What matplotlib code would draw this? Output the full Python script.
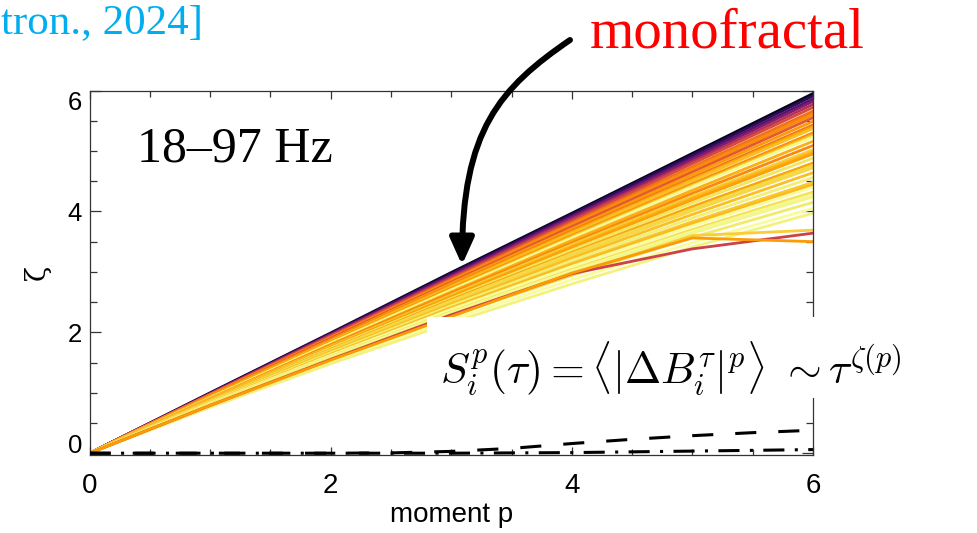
import matplotlib
matplotlib.use("Agg")
import matplotlib.pyplot as plt
from matplotlib.patches import Rectangle, FancyArrowPatch
from matplotlib.path import Path
from matplotlib.ticker import FixedLocator, MultipleLocator

# ---- data -------------------------------------------------------------
moments = [0, 1, 2, 3, 4, 5, 6]

# scaling exponents zeta(p), one curve per interval
zeta_curves = [
    [0, 1.00, 1.99, 2.99, 3.97, 4.96, 5.95],
    [0, 0.99, 1.98, 2.97, 3.95, 4.93, 5.91],
    [0, 0.99, 1.97, 2.95, 3.92, 4.89, 5.86],
    [0, 0.98, 1.96, 2.93, 3.90, 4.86, 5.82],
    [0, 0.98, 1.95, 2.91, 3.87, 4.82, 5.77],
    [0, 0.97, 1.94, 2.89, 3.84, 4.79, 5.72],
    [0, 0.97, 1.92, 2.87, 3.81, 4.74, 5.66],
    [0, 0.96, 1.91, 2.86, 3.79, 4.71, 5.62],
    [0, 0.96, 1.91, 2.85, 3.78, 4.69, 5.60],
    [0, 0.95, 1.90, 2.83, 3.75, 4.65, 5.55],
    [0, 0.95, 1.88, 2.81, 3.71, 4.61, 5.49],
    [0, 0.94, 1.87, 2.78, 3.68, 4.56, 5.43],
    [0, 0.94, 1.86, 2.77, 3.66, 4.53, 5.40],
    [0, 0.93, 1.85, 2.75, 3.64, 4.51, 5.37],
    [0, 0.93, 1.84, 2.73, 3.60, 4.46, 5.30],
    [0, 0.92, 1.83, 2.71, 3.58, 4.43, 5.26],
    [0, 0.92, 1.82, 2.70, 3.56, 4.41, 5.23],
    [0, 0.91, 1.80, 2.67, 3.52, 4.35, 5.16],
    [0, 0.90, 1.79, 2.65, 3.48, 4.30, 5.09],
    [0, 0.90, 1.77, 2.62, 3.45, 4.25, 5.02],
    [0, 0.89, 1.76, 2.60, 3.42, 4.22, 4.98],
    [0, 0.89, 1.75, 2.59, 3.40, 4.19, 4.95],
    [0, 0.88, 1.74, 2.56, 3.36, 4.14, 4.88],
    [0, 0.88, 1.72, 2.54, 3.32, 4.08, 4.80],
    [0, 0.87, 1.71, 2.52, 3.30, 4.04, 4.76],
    [0, 0.86, 1.70, 2.50, 3.27, 4.01, 4.72],
    [0, 0.86, 1.68, 2.47, 3.23, 3.95, 4.64],
    [0, 0.85, 1.66, 2.44, 3.18, 3.89, 4.56],
    [0, 0.84, 1.64, 2.41, 3.14, 3.83, 4.48],
    [0, 0.83, 1.63, 2.40, 3.12, 3.80, 4.44],
    [0, 0.83, 1.62, 2.38, 3.09, 3.76, 4.40],
    [0, 0.82, 1.60, 2.34, 3.04, 3.70, 4.32],
    [0, 0.81, 1.59, 2.33, 3.02, 3.67, 4.28],
    [0, 0.81, 1.58, 2.31, 2.99, 3.64, 4.24],
    [0, 0.80, 1.55, 2.27, 2.94, 3.57, 4.15],
    [0, 0.78, 1.52, 2.21, 2.87, 3.48, 4.05],
    [0, 0.76, 1.48, 2.16, 2.80, 3.41, 3.97],
    [0, 0.80, 1.56, 2.28, 2.95, 3.60, 3.69],
    [0, 0.79, 1.55, 2.29, 2.97, 3.38, 3.64],
    [0, 0.79, 1.54, 2.26, 2.98, 3.56, 3.50],
]

# colormap position (inferno) of each curve
curve_tones = [
    0.05, 0.15, 0.25, 0.35, 0.48, 0.58, 0.68, 0.72, 0.75, 0.62,
    0.78, 0.70, 0.80, 0.85, 0.76, 0.86, 0.98, 0.82, 0.74, 0.88,
    0.83, 0.79, 0.93, 0.80, 0.91, 0.90, 0.85, 0.95, 0.87, 0.84,
    0.99, 0.92, 0.98, 0.97, 0.94, 0.99, 0.96, 0.88, 0.55, 0.78,
]

# reference curves near zero
dashed_p = [0, 2, 2.5, 3, 3.5, 4, 4.5, 5, 5.5, 6]
dashed_zeta = [0, 0.0, 0.005, 0.03, 0.08, 0.16, 0.23, 0.29, 0.34, 0.38]
dashdot_p = [0, 3, 4, 5, 6]
dashdot_zeta = [0, 0.0, 0.01, 0.035, 0.06]

x_ticks = [0, 2, 4, 6]
y_ticks = [0, 2, 4, 6]

# ---- figure -----------------------------------------------------------
plt.rcParams["mathtext.fontset"] = "cm"
W, H = 977, 533
fig = plt.figure(figsize=(W / 100, H / 100), dpi=100)


def fpos(x, y):
    """pixel position (from top-left) -> figure fraction"""
    return x / W, 1 - y / H


ax = fig.add_axes([0.0917, 0.1463, 0.7404, 0.6839])

cmap = plt.get_cmap("inferno")
for vals, tone in zip(zeta_curves, curve_tones):
    ax.plot(moments, vals, color=cmap(tone), lw=2.0, zorder=2)

ax.plot(dashed_p, dashed_zeta, color="black", lw=2.2,
        dashes=(6.9, 7.2), zorder=3)
ax.plot(dashdot_p, dashdot_zeta, color="black", lw=2.2,
        dashes=(6.9, 3.4, 1.0, 3.4), zorder=3)

ax.set_xlim(0, 6)
ax.set_ylim(-0.03, 6)
ax.xaxis.set_major_locator(FixedLocator(x_ticks))
ax.yaxis.set_major_locator(FixedLocator(y_ticks))
ax.xaxis.set_minor_locator(MultipleLocator(0.5))
ax.yaxis.set_minor_locator(MultipleLocator(0.5))

spine_col = "#333333"
for s in ax.spines.values():
    s.set_color(spine_col)
    s.set_linewidth(0.9)

ax.tick_params(which="both", direction="in", top=True, right=True,
               width=0.9, color=spine_col, labelcolor="black")
ax.tick_params(axis="x", which="major", length=6, pad=13, labelsize=20)
ax.tick_params(axis="x", which="minor", length=4)
ax.tick_params(axis="y", which="major", length=8, pad=5.5, labelsize=18.5)
ax.tick_params(axis="y", which="minor", length=5)
for lbl in ax.get_xticklabels() + ax.get_yticklabels():
    lbl.set_family("Liberation Sans")

ax.set_xlabel("moment p", fontsize=20, family="Liberation Sans", labelpad=2)
ax.set_ylabel("ζ", fontsize=20, family="DejaVu Serif", labelpad=12)

fig.canvas.draw()
ylbls = ax.get_yticklabels()
ylbls[0].set_va("baseline")
ylbls[-1].set_va("top")

# annotations
fig.text(*fpos(137, 162), "18–97 Hz", fontsize=36, family="Liberation Serif",
         va="baseline", ha="left")
fig.text(*fpos(590, 48), "monofractal", fontsize=41, color="#ff0000",
         family="Liberation Serif", va="baseline", ha="left")
fig.text(*fpos(203, 33), "tron., 2024]", fontsize=31, color="#00aeef",
         family="Liberation Serif", va="baseline", ha="right")

box = Rectangle(fpos(427, 398), (W - 427) / W, (398 - 317) / H,
                transform=fig.transFigure, facecolor="white",
                edgecolor="none", zorder=5)
fig.add_artist(box)
fig.text(*fpos(440, 384),
         r"$S_i^p(\tau) = \langle|\Delta B_i^\tau|^p\rangle\ \sim \tau^{\zeta(p)}$",
         fontsize=31.3, va="baseline", ha="left", zorder=6)

arrow_path = Path([fpos(570, 40), fpos(500, 88), fpos(462, 130), fpos(462, 265)],
                  [Path.MOVETO, Path.CURVE4, Path.CURVE4, Path.CURVE4])
arrow = FancyArrowPatch(path=arrow_path,
                        arrowstyle="-|>,head_length=1.0,head_width=0.45",
                        mutation_scale=16, lw=4.3, color="black",
                        transform=fig.transFigure, zorder=7)
fig.add_artist(arrow)

fig.savefig("out.png", dpi=100)
